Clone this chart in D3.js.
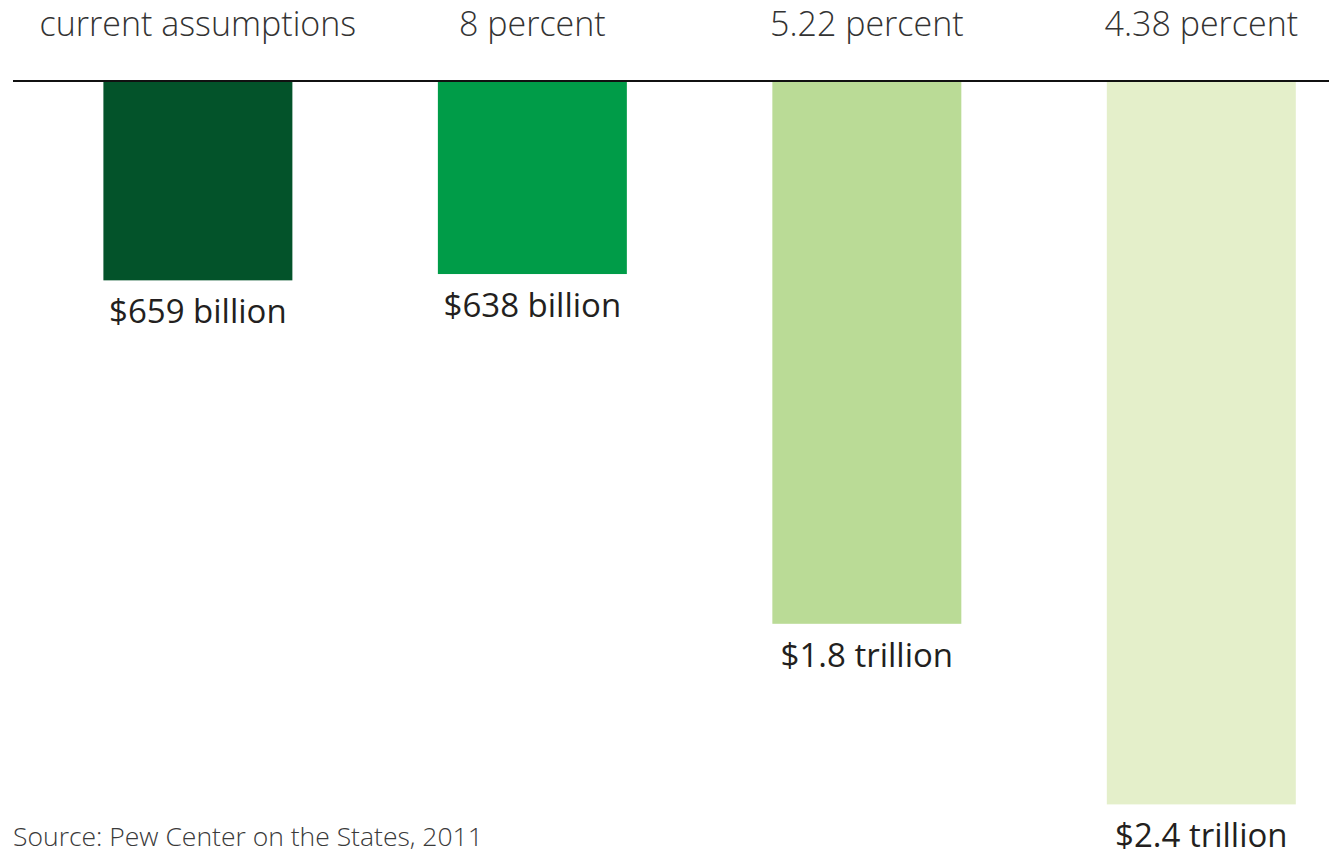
<!DOCTYPE html>
<html>
<head>
<meta charset="utf-8">
<script src="https://cdn.jsdelivr.net/npm/d3@7"></script>
<style>
  html, body { margin: 0; padding: 0; background: #fff; }
  svg { display: block; }
</style>
</head>
<body>
<svg id="chart" width="1329" height="859"></svg>
<script>
// Scenario names (discount-rate assumption) shown above each bar
const scenarios = ["current assumptions", "8 percent", "5.22 percent", "4.38 percent"];
// Unfunded pension liability, billions of dollars
const liabilities = [659, 638, 1800, 2400];
// Value labels printed under each bar
const valueLabels = ["$659 billion", "$638 billion", "$1.8 trillion", "$2.4 trillion"];
const barColors = ["#03532a", "#009c48", "#badb96", "#e4efca"];
const sourceNote = "Source: Pew Center on the States, 2011";

const svg = d3.select("#chart");
const baseY = 81;

const x = d3.scaleBand()
  .domain(scenarios)
  .range([103.4, 1295.8])
  .paddingInner(0.435)
  .paddingOuter(0);

const y = d3.scaleLinear()
  .domain([0, 2400])
  .range([baseY + 1, baseY + 1 + 2400 * 0.301]);

const rows = scenarios.map((s, i) => ({
  name: s, value: liabilities[i], label: valueLabels[i], color: barColors[i]
}));

// Bars hang down from the top rule
svg.append("g")
  .selectAll("rect")
  .data(rows)
  .join("rect")
  .attr("x", d => x(d.name))
  .attr("y", y(0))
  .attr("width", x.bandwidth())
  .attr("height", d => y(d.value) - y(0))
  .attr("fill", d => d.color);

// Top rule
svg.append("line")
  .attr("x1", 13).attr("x2", 1329)
  .attr("y1", baseY).attr("y2", baseY)
  .attr("stroke", "#111").attr("stroke-width", 2);

// Scenario headings
svg.append("g")
  .selectAll("text")
  .data(rows)
  .join("text")
  .attr("x", d => x(d.name) + x.bandwidth() / 2)
  .attr("y", 36)
  .attr("text-anchor", "middle")
  .attr("font-family", "'Open Sans', 'Noto Sans', sans-serif")
  .attr("font-weight", 300)
  .attr("font-size", 34)
  .attr("fill", "#333")
  .text(d => d.name);

// Value labels below each bar
svg.append("g")
  .selectAll("text")
  .data(rows)
  .join("text")
  .attr("x", d => x(d.name) + x.bandwidth() / 2)
  .attr("y", d => y(d.value) + 43)
  .attr("text-anchor", "middle")
  .attr("font-family", "'Open Sans', 'Noto Sans', sans-serif")
  .attr("font-size", 33)
  .attr("fill", "#231f20")
  .text(d => d.label);

// Source note
svg.append("text")
  .attr("x", 13)
  .attr("y", 846)
  .attr("font-family", "'Open Sans', 'Noto Sans', sans-serif")
  .attr("font-weight", 300)
  .attr("font-size", 26.5)
  .attr("fill", "#3a3a3a")
  .text(sourceNote);
</script>
</body>
</html>
